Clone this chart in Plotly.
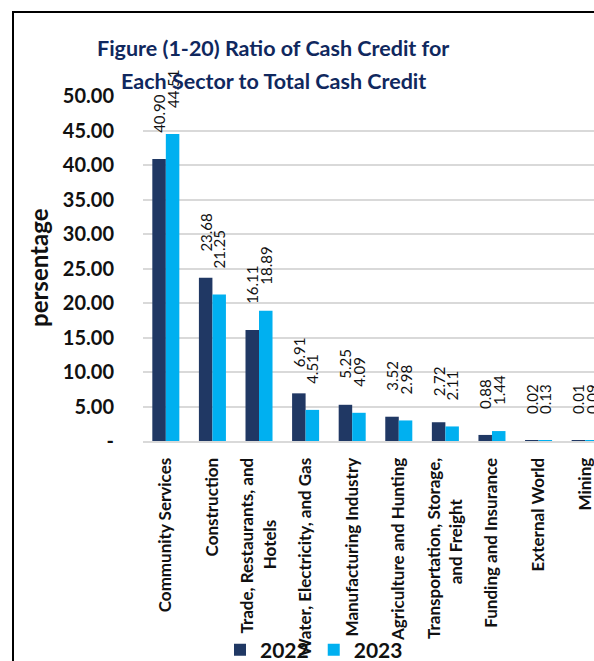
import plotly.graph_objects as go

# Sector categories and credit-share values (%)
sectors = [
    "Community Services",
    "Construction",
    "Trade, Restaurants, and Hotels",
    "Water, Electricity, and Gas",
    "Manufacturing Industry",
    "Agriculture and Hunting",
    "Transportation, Storage, and Freight",
    "Funding and Insurance",
    "External World",
    "Mining",
]
# Axis tick text (wrapped; second lines padded so they sit centred)
sector_ticktext = [
    "Community Services",
    "Construction",
    "Trade, Restaurants, and<br>Hotels" + "\u00a0" * 15,
    "Water, Electricity, and Gas",
    "Manufacturing Industry",
    "Agriculture and Hunting",
    "Transportation, Storage,<br>and Freight" + "\u00a0" * 10,
    "Funding and Insurance",
    "External World",
    "Mining",
]
ratio_2022 = [40.90, 23.68, 16.11, 6.91, 5.25, 3.52, 2.72, 0.88, 0.02, 0.01]
ratio_2023 = [44.51, 21.25, 18.89, 4.51, 4.09, 2.98, 2.11, 1.44, 0.13, 0.09]
y_ticks = [0, 5, 10, 15, 20, 25, 30, 35, 40, 45, 50]
y_ticktext = ["-", "5.00", "10.00", "15.00", "20.00", "25.00", "30.00",
              "35.00", "40.00", "45.00", "50.00"]

NAVY = "#203864"
CYAN = "#00B0F0"
FONT = "Lato"

W, H = 594, 661
L, R, T, B = 143, 0, 96, 220
plot_w, plot_h = W - L - R, H - T - B


def px_x(p):
    return (p - L) / plot_w


def px_y(p):
    return (H - B - p) / plot_h


label_pad = "\u00a0" * 6  # gap between bar end and rotated value label

fig = go.Figure()
for name, vals, col in [("2022", ratio_2022, NAVY), ("2023", ratio_2023, CYAN)]:
    fig.add_trace(go.Bar(
        name=name,
        x=sectors,
        y=vals,
        marker=dict(color=col, line=dict(width=0)),
        texttemplate=label_pad + "%{y:.2f}",
        textposition="outside",
        textangle=-90,
        outsidetextfont=dict(family=FONT, size=15, color="#111111"),
        cliponaxis=False,
        constraintext="none",
    ))

fig.update_layout(
    width=W,
    height=H,
    margin=dict(l=L, r=R, t=T, b=B, pad=0),
    paper_bgcolor="white",
    plot_bgcolor="white",
    barmode="group",
    bargap=0.42,
    bargroupgap=0,
    font=dict(family=FONT, color="#111111"),
    showlegend=True,
    legend=dict(
        orientation="h",
        xref="container",
        yref="container",
        x=220 / W,
        xanchor="left",
        y=1 - 650 / H,
        yanchor="middle",
        font=dict(family=FONT, size=21, color="#111111", weight="bold"),
        bgcolor="rgba(0,0,0,0)",
        itemclick=False,
    ),
    xaxis=dict(
        type="category",
        range=[-0.49, 9.19],
        tickvals=sectors,
        ticktext=sector_ticktext,
        tickangle=-90,
        tickfont=dict(family=FONT, size=17, color="#111111", weight="bold"),
        ticklabelstandoff=8,
        showgrid=False,
        showline=True,
        linecolor="#d9d9d9",
        linewidth=2,
        ticks="",
        automargin=False,
    ),
    yaxis=dict(
        range=[0, 50.02],
        tickvals=y_ticks,
        ticktext=y_ticktext,
        tickfont=dict(family=FONT, size=20, color="#111111", weight="bold"),
        ticklabelstandoff=28,
        showgrid=True,
        gridcolor="#d9d9d9",
        gridwidth=1.5,
        zeroline=False,
        showline=False,
        ticks="",
        automargin=False,
    ),
)

# Two-line chart title
for txt, ypx in [("Figure (1-20) Ratio of Cash Credit for", 48),
                 ("Each Sector to Total Cash Credit", 81)]:
    fig.add_annotation(
        text=txt, xref="paper", yref="paper",
        x=px_x(273), y=px_y(ypx), xanchor="center", yanchor="middle",
        showarrow=False,
        font=dict(family=FONT, size=21.5, color="#10285E", weight="bold"),
    )

# Y-axis title
fig.add_annotation(
    text="persentage", xref="paper", yref="paper",
    x=px_x(38), y=px_y(268), xanchor="center", yanchor="middle",
    textangle=-90, showarrow=False,
    font=dict(family=FONT, size=24, color="#111111", weight="bold"),
)

# Outer frame lines (left and top)
fig.add_shape(type="line", xref="paper", yref="paper",
              x0=px_x(13), x1=px_x(13), y0=px_y(12), y1=px_y(H + 5),
              line=dict(color="black", width=2))
fig.add_shape(type="line", xref="paper", yref="paper",
              x0=px_x(12), x1=px_x(W + 5), y0=px_y(12), y1=px_y(12),
              line=dict(color="black", width=2))

fig.write_html("out.html")
